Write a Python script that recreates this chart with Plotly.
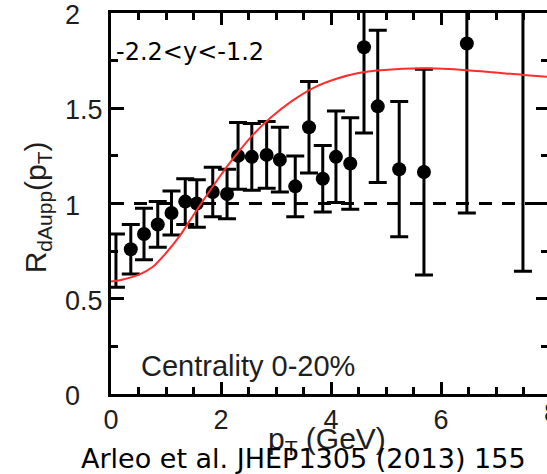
import plotly.graph_objects as go

# --- data ---
pt = [0.36, 0.60, 0.85, 1.10, 1.35, 1.56, 1.85, 2.11, 2.31, 2.56, 2.83, 3.07, 3.35,
      3.60, 3.85, 4.09, 4.35, 4.60, 4.85, 5.24, 5.69, 6.47]
r_dau = [0.76, 0.84, 0.89, 0.95, 1.01, 1.00, 1.06, 1.05, 1.25, 1.245, 1.255, 1.23, 1.09,
         1.40, 1.13, 1.245, 1.21, 1.82, 1.51, 1.18, 1.165, 1.84]
r_err = [0.13, 0.135, 0.12, 0.115, 0.12, 0.125, 0.13, 0.13, 0.175, 0.175, 0.175, 0.17, 0.16,
         0.24, 0.175, 0.24, 0.24, 0.45, 0.40, 0.355, 0.54, 0.89]

# error bars whose markers are not visible in the picture
pt_nomarker = [0.09, 7.49]
r_nomarker = [0.70, 2.20]
err_nomarker = [0.14, 1.555]

# theory curve
curve_pt = [0, 0.2, 0.5, 0.75, 1.0, 1.25, 1.5, 1.71, 1.95, 2.22, 2.58, 2.9, 3.3,
            3.7, 4.1, 4.5, 4.9, 5.75, 6.47, 7.49, 7.93]
curve_r = [0.59, 0.60, 0.625, 0.665, 0.74, 0.83, 0.94, 1.03, 1.13, 1.235, 1.36, 1.45, 1.54,
           1.61, 1.655, 1.685, 1.70, 1.71, 1.70, 1.675, 1.665]

x_ticks = [0, 2, 4, 6]
y_tick_vals = [0, 0.5, 1, 1.5, 2]
y_tick_text = ["0", "0.5", "1", "1.5", "2"]

W, H = 547, 474
L, T, B = 111, 13, 80
plot_w = W - L
px_per_unit = 55.0
x_max = plot_w / px_per_unit

blur = "#1e1e1e"
lab_font = dict(family="Liberation Sans, Arial, sans-serif", size=27, color=blur)

fig = go.Figure()

fig.add_trace(go.Scatter(
    x=curve_pt, y=curve_r, mode="lines", yaxis="y2",
    line=dict(color="rgb(255,45,45)", width=2, shape="spline", smoothing=0.8),
    hoverinfo="skip", showlegend=False))

fig.add_trace(go.Scatter(
    x=pt_nomarker, y=r_nomarker, mode="markers",
    marker=dict(size=14, color="black", opacity=0),
    error_y=dict(type="data", array=err_nomarker, visible=True, color="black",
                 thickness=3, width=9),
    showlegend=False))

fig.add_trace(go.Scatter(
    x=pt, y=r_dau, mode="markers",
    marker=dict(size=14, color="black", line=dict(width=0)),
    error_y=dict(type="data", array=r_err, visible=True, color="black",
                 thickness=3, width=9),
    showlegend=False))

fig.add_shape(type="line", xref="paper", x0=0, x1=1, yref="y", y0=1, y1=1,
              line=dict(color="black", width=3, dash="13px,10px"))

annotations = []
for v, t in zip(y_tick_vals, y_tick_text):
    annotations.append(dict(text=t, xref="paper", x=(63 - L) / plot_w, xanchor="left",
                            yref="y", y=v, yanchor="middle", yshift=-2,
                            showarrow=False, font=lab_font))
annotations.append(dict(text="8", xref="paper", x=(551 - L) / plot_w, xanchor="center",
                        yref="paper", y=(394 - 413) / 381, yanchor="middle",
                        showarrow=False, font=lab_font))
annotations.append(dict(text="R<sub>dAupp</sub>(p<sub>T</sub>)", xref="paper",
                        x=(37 - L) / plot_w, xanchor="center", yref="paper", y=0.49,
                        yanchor="middle", textangle=-90, showarrow=False,
                        font=dict(family="Liberation Sans, Arial, sans-serif", size=30,
                                  color=blur)))
annotations.append(dict(text="p<sub>T</sub> (GeV)", xref="paper", x=(327 - L) / plot_w,
                        xanchor="center", yref="paper", y=(394 - 440) / 381,
                        yanchor="middle", showarrow=False,
                        font=dict(family="Liberation Sans, Arial, sans-serif", size=30,
                                  color=blur)))
annotations.append(dict(text="Arleo et al. JHEP1305 (2013) 155", xref="paper",
                        x=(303 - L) / plot_w, xanchor="center", yref="paper",
                        y=(394 - 458) / 381, yanchor="middle", showarrow=False,
                        font=dict(family="DejaVu Sans, sans-serif", size=27, color="black")))
annotations.append(dict(text="-2.2<y<-1.2", xref="paper", x=(114 - L) / plot_w,
                        xanchor="left", yref="paper", y=(394 - 52) / 381,
                        yanchor="middle", showarrow=False,
                        font=dict(family="DejaVu Sans, sans-serif", size=24, color="black")))
annotations.append(dict(text="Centrality 0-20%", xref="paper", x=(248 - L) / plot_w,
                        xanchor="center", yref="paper", y=(394 - 366) / 381,
                        yanchor="middle", showarrow=False,
                        font=dict(family="Liberation Sans, Arial, sans-serif", size=29,
                                  color=blur)))

fig.update_layout(
    width=W, height=H,
    margin=dict(l=L, r=0, t=T, b=B, pad=0),
    paper_bgcolor="white", plot_bgcolor="white",
    showlegend=False,
    xaxis=dict(range=[0, x_max], tickvals=x_ticks, ticks="inside", ticklen=12,
               tickwidth=3, tickcolor="black", showline=True, linewidth=3,
               linecolor="black", mirror="ticks", showgrid=False, zeroline=False,
               tickfont=lab_font,
               minor=dict(ticks="inside", ticklen=7, tickwidth=3, dtick=0.5,
                          tickcolor="black", showgrid=False)),
    yaxis=dict(range=[0, 2], tickvals=y_tick_vals, showticklabels=False, ticks="inside",
               ticklen=13, tickwidth=3, tickcolor="black", showline=True, linewidth=3,
               linecolor="black", showgrid=False, zeroline=False,
               minor=dict(ticks="inside", ticklen=7, tickwidth=3, dtick=0.25,
                          tickcolor="black", showgrid=False)),
    yaxis2=dict(range=[0, 2], overlaying="y", side="right", tickvals=y_tick_vals,
                showticklabels=False, ticks="inside", ticklen=11, tickwidth=3,
                tickcolor="black", showline=False, showgrid=False, zeroline=False,
                minor=dict(ticks="inside", ticklen=6, tickwidth=3, dtick=0.25,
                           tickcolor="black", showgrid=False)),
    annotations=annotations,
)

fig.write_html("out.html")
